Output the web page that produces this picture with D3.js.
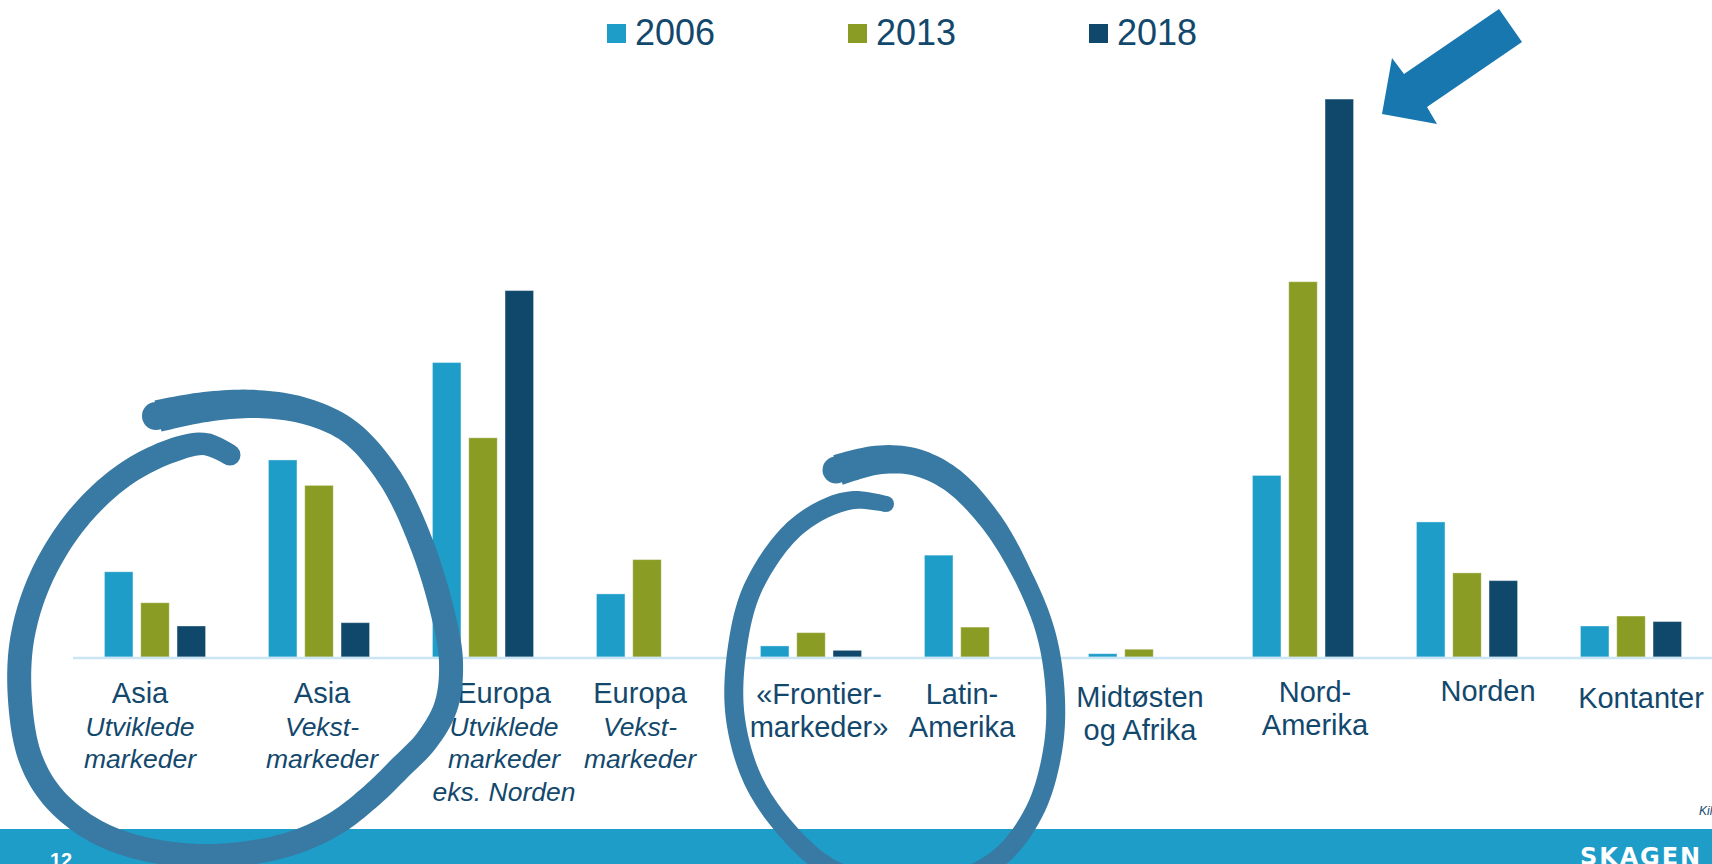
<!DOCTYPE html>
<html>
<head>
<meta charset="utf-8">
<script src="https://cdn.jsdelivr.net/npm/d3@7"></script>
<style>
  html, body { margin: 0; padding: 0; background: #fff; overflow: hidden; }
  text { font-family: "Liberation Sans", Arial, sans-serif; }
</style>
</head>
<body>
<div id="my_dataviz"></div>
<script>
// data (share of portfolio, %)
var categories = ["Asia Utviklede markeder", "Asia Vekstmarkeder", "Europa Utviklede markeder eks. Norden",
  "Europa Vekstmarkeder", "«Frontier-markeder»", "Latin-Amerika", "Midtøsten og Afrika",
  "Nord-Amerika", "Norden", "Kontanter"];
var years = ["2006", "2013", "2018"];
var values2006 = [7.7, 17.8, 26.6, 5.7, 1.0, 9.2, 0.3, 16.4, 12.2, 2.8];
var values2013 = [4.9, 15.5, 19.8, 8.8, 2.2, 2.7, 0.7, 33.9, 7.6, 3.7];
var values2018 = [2.8, 3.1, 33.1, 0, 0.6, 0, 0, 50.4, 6.9, 3.2];

// tick labels, upright lines then italic lines
var labelLines = [["Asia"], ["Asia"], ["Europa"], ["Europa"], ["«Frontier-", "markeder»"],
  ["Latin-", "Amerika"], ["Midtøsten", "og Afrika"], ["Nord-", "Amerika"], ["Norden"], ["Kontanter"]];
var labelItalic = [["Utviklede", "markeder"], ["Vekst-", "markeder"], ["Utviklede", "markeder", "eks. Norden"],
  ["Vekst-", "markeder"], [], [], [], [], [], []];

// layout
var width = 1712, height = 864;
var baseY = 657;
var colors = {"2006": "#1f9dc9", "2013": "#8a9c24", "2018": "#10486b"};
var textColor = "#13486d";
var ringColor = "#387aa3";
// hand-placed label nudges (x, y) as in the slide
var labelDx = [-15, 3, 21, -7, 8, -13, 1, 12, 21, 10];
var labelDy = [0, 0, 0, 0, 1, 1, 4, -1, -2, 5];

var svg = d3.select("#my_dataviz")
  .append("svg")
    .attr("width", width)
    .attr("height", height);

var series = [values2006, values2013, values2018];

// scales
var x0 = d3.scaleBand()
  .domain(categories)
  .range([73, 1713])
  .padding(0);

var x1 = d3.scaleBand()
  .domain(years)
  .range([0, x0.bandwidth()])
  .paddingInner(0.215)
  .paddingOuter(0.867);

var y = d3.scaleLinear()
  .domain([0, 50])
  .range([baseY, baseY - 553.5]);

// footer band
svg.append("rect")
  .attr("x", 0).attr("y", 829)
  .attr("width", width).attr("height", height - 829)
  .attr("fill", "#1f9dc9");

svg.append("text")
  .attr("x", 50).attr("y", 867)
  .attr("fill", "#fff")
  .attr("font-size", 20)
  .attr("font-weight", "bold")
  .text("12");

svg.append("text")
  .attr("x", 1580).attr("y", 865)
  .attr("fill", "#fff")
  .attr("font-size", 24)
  .attr("font-weight", "bold")
  .style("font-family", "'DejaVu Sans', sans-serif")
  .attr("textLength", 120)
  .attr("lengthAdjust", "spacing")
  .text("SKAGEN");

svg.append("text")
  .attr("x", 1699).attr("y", 815)
  .attr("fill", textColor)
  .attr("font-size", 12)
  .attr("font-style", "italic")
  .text("Kilde: SKAGEN");

// bars
var rows = [];
categories.forEach(function(c, i) {
  years.forEach(function(yr, j) {
    rows.push({cat: c, year: yr, value: series[j][i]});
  });
});

svg.append("g")
  .selectAll("rect")
  .data(rows.filter(function(d) { return d.value > 0; }))
  .enter()
  .append("rect")
    .attr("x", function(d) { return x0(d.cat) + x1(d.year); })
    .attr("y", function(d) { return y(d.value); })
    .attr("width", x1.bandwidth())
    .attr("height", function(d) { return y(0) - y(d.value); })
    .attr("fill", function(d) { return colors[d.year]; })
    .attr("stroke", "rgba(255,255,255,0.35)")
    .attr("stroke-width", 1);

// baseline
svg.append("line")
  .attr("x1", 73).attr("x2", width)
  .attr("y1", baseY + 1).attr("y2", baseY + 1)
  .attr("stroke", "#cbe5f5")
  .attr("stroke-width", 2.5);

// category labels
var labels = svg.append("g")
  .selectAll("text")
  .data(categories)
  .enter()
  .append("text")
    .attr("text-anchor", "middle")
    .attr("fill", textColor)
    .attr("transform", function(d, i) {
      return "translate(" + (x0(d) + x0.bandwidth() / 2 + labelDx[i]) + "," + (703 + labelDy[i]) + ")";
    });

labels.each(function(d, i) {
  var t = d3.select(this);
  var lines = labelLines[i].map(function(s) { return {s: s, it: false}; })
    .concat(labelItalic[i].map(function(s) { return {s: s, it: true}; }));
  lines.forEach(function(l, k) {
    t.append("tspan")
      .attr("x", 0)
      .attr("y", k * 32.5)
      .attr("font-size", l.it ? 26.5 : 29)
      .attr("font-style", l.it ? "italic" : "normal")
      .text(l.s);
  });
});

// legend
var legend = svg.append("g")
  .selectAll("g")
  .data(years)
  .enter()
  .append("g")
    .attr("transform", function(d, i) { return "translate(" + (607 + i * 241) + ",24)"; });

legend.append("rect")
  .attr("width", 19).attr("height", 19)
  .attr("fill", function(d) { return colors[d]; });

legend.append("text")
  .attr("x", 28).attr("y", 21)
  .attr("font-size", 36)
  .attr("fill", textColor)
  .text(function(d) { return d; });

// hand drawn rings (marker strokes, thicker where the pen started)
var ring1 = [[158,416],[205,407],[255,404],[305,411],[350,432],[390,478],[420,540],[442,610],[451,662],
  [446,706],[427,740],[400,768],[370,797],[333,825],[283,846],[210,856],[140,848],[90,828],[52,796],[30,757],
  [20,700],[22,640],[40,580],[75,522],[120,478],[168,452],[205,444],[230,455]];
var ring2 = [[838,470],[878,460],[915,462],[952,480],[990,520],[1020,570],[1045,630],[1055,690],
  [1053,748],[1035,810],[1000,857],[950,882],[890,886],[830,868],[785,828],[752,778],[735,715],
  [737,650],[752,590],[788,535],[822,510],[854,500],[886,504]];

var ringLine = d3.line().curve(d3.curveCatmullRom.alpha(0.5));

function marker(points, wStart, wMid, taper) {
  var guide = svg.append("path").attr("d", ringLine(points)).attr("fill", "none");
  var node = guide.node(), L = node.getTotalLength();
  var n = 300, left = [], right = [];
  for (var i = 0; i <= n; i++) {
    var s = L * i / n;
    var a = node.getPointAtLength(Math.max(s - 1, 0)),
        b = node.getPointAtLength(Math.min(s + 1, L)),
        p = node.getPointAtLength(s);
    var dx = b.x - a.x, dy = b.y - a.y, len = Math.sqrt(dx * dx + dy * dy) || 1;
    var t = i / n;
    var w = t < taper ? wStart + (wMid - wStart) * (t / taper) : wMid;
    if (t > 0.96) w = wMid - 3 * (t - 0.96) / 0.04;
    var nx = -dy / len * w / 2, ny = dx / len * w / 2;
    left.push([p.x + nx, p.y + ny]);
    right.push([p.x - nx, p.y - ny]);
  }
  guide.remove();
  svg.append("path")
    .attr("d", d3.line()(left.concat(right.reverse())) + "Z")
    .attr("fill", ringColor);
  var end = points[points.length - 1];
  svg.append("circle").attr("cx", points[0][0] - 2).attr("cy", points[0][1])
    .attr("r", wStart / 2 - 2).attr("fill", ringColor);
  svg.append("circle").attr("cx", end[0]).attr("cy", end[1])
    .attr("r", (wMid - 3) / 2).attr("fill", ringColor);
}

marker(ring1, 32, 24, 0.14);
marker(ring2, 31, 19, 0.2);

// arrow pointing at the tallest bar
var arrow = [[1499,9],[1522,42],[1427,107],[1437,124],[1382,114],[1392,58],[1404,74]];
svg.append("polygon")
  .attr("points", arrow.map(function(p) { return p.join(","); }).join(" "))
  .attr("fill", "#1877ae");
</script>
</body>
</html>
